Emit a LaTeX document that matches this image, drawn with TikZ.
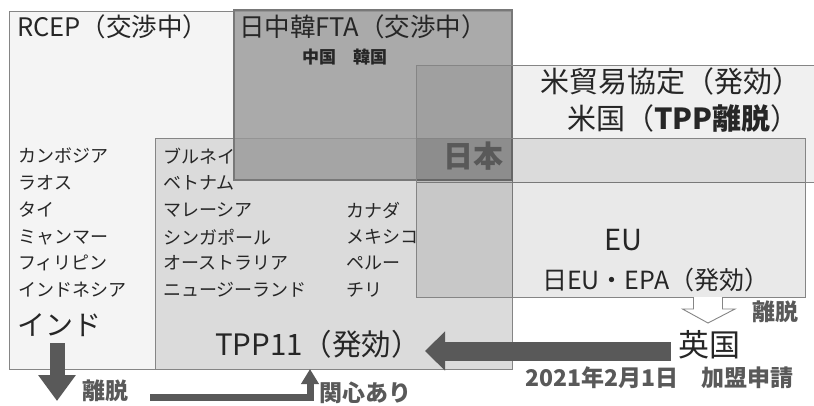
\documentclass[tikz,border=0pt]{standalone}
\usepackage{fontspec}
\setmainfont{Noto Sans CJK JP}
\usetikzlibrary{arrows.meta}
\definecolor{ink}{HTML}{262626}
\definecolor{lab}{HTML}{595959}
\definecolor{edge}{HTML}{858585}
\definecolor{ftac}{RGB}{152,152,152}
\newcommand\jsz[1]{\fontsize{#1pt}{#1pt}\selectfont}
\begin{document}
\begin{tikzpicture}[x=1pt,y=-1pt,
  box/.style={draw=edge, line width=0.9pt, anchor=north west, inner sep=0pt, outer sep=0pt},
  txt/.style={anchor=west, inner sep=0pt, text=ink},
  lbl/.style={anchor=west, inner sep=0pt, text=lab, font=\bfseries\jsz{23}},
  cty/.style={anchor=west, inner sep=0pt, text=ink, font=\jsz{18}},
  blk/.style={draw=lab, line join=miter}]
\useasboundingbox (0,0) rectangle (814,405);
\fill[white] (0,0) rectangle (814,405);
% regions
\node[box, fill=black, fill opacity=0.045, minimum width=503pt, minimum height=358pt] (rcep) at (9,11) {};
\node[box, fill=black, fill opacity=0.1, minimum width=357pt, minimum height=231pt] (tpp) at (155,138) {};
\node[box, draw=edge!90!black, line width=1.3pt, fill=ftac, fill opacity=0.8, minimum width=278pt, minimum height=170pt] (fta) at (234,10) {};
\node[box, fill=black, fill opacity=0.06, minimum width=420pt, minimum height=117pt] (us) at (416,65) {};
\node[box, fill=black, fill opacity=0.085, minimum width=389pt, minimum height=159pt] (eu) at (416,138) {};
% titles
\node[txt, font=\jsz{25.5}] (trcep) at (17,27) {RCEP（交渉中）};
\node[txt, font=\jsz{25.5}] (tfta) at (239,27) {日中韓FTA（交渉中）};
\node[txt, font=\bfseries\jsz{17}] (tck) at (302,57) {中国　韓国};
\node[txt, font=\jsz{29}] (tus1) at (540,81) {米貿易協定（発効）};
\node[txt, font=\jsz{29}] (tus2) at (567,118) {米国（\textbf{TPP離脱}）};
\node[txt, text=lab, font=\bfseries\jsz{30}] (tjp) at (443,156) {日本};
\node[txt, font=\jsz{29}] (teu) at (604,240) {EU};
\node[txt, font=\jsz{25}] (tepa) at (542,280) {日EU・EPA（発効）};
\node[txt, font=\jsz{29.5}] (ttpp) at (215,344) {TPP11（発効）};
\node[txt, font=\jsz{28}] (tind) at (17,325) {インド};
\node[txt, font=\jsz{31}] (tuk) at (678,345) {英国};
% countries
\node[cty] (c1) at (18,156) {カンボジア};
\node[cty] (c2) at (18,183) {ラオス};
\node[cty] (c3) at (18,210) {タイ};
\node[cty] (c4) at (18,237) {ミャンマー};
\node[cty] (c5) at (18,263) {フィリピン};
\node[cty] (c6) at (18,290) {インドネシア};
\node[cty] (m1) at (163,156) {ブルネイ};
\node[cty] (m2) at (163,183) {ベトナム};
\node[cty] (m3) at (163,210) {マレーシア};
\node[cty] (m4) at (163,237) {シンガポール};
\node[cty] (m5) at (163,263) {オーストラリア};
\node[cty] (m6) at (163,290) {ニュージーランド};
\node[cty] (r1) at (346,210) {カナダ};
\node[cty] (r2) at (346,237) {メキシコ};
\node[cty] (r3) at (346,263) {ペルー};
\node[cty] (r4) at (346,290) {チリ};
% labels
\node[lbl] (lind) at (82,391) {離脱};
\node[lbl] (lint) at (319,393) {関心あり};
\node[lbl] (luk) at (752,312) {離脱};
\node[lbl] (ldate) at (525,378) {2021年2月1日　加盟申請};
% arrows
\coordinate (indtop) at (57,343);
\coordinate (indtip) at (57,401);
\draw[blk, line width=15pt, -{Triangle[width=36pt,length=26pt]}] (indtop) -- (indtip);
\coordinate (elbs) at (150,397);
\coordinate (elbt) at (310,369);
\draw[blk, line width=7pt, -{Triangle[width=17pt,length=15pt]}] (elbs) -| (elbt);
\coordinate (uks) at (671,351);
\coordinate (ukt) at (425,351);
\draw[blk, line width=19pt, -{Triangle[width=38pt,length=20pt]}] (uks) -- (ukt);
\coordinate (brx) at (708,297);
\draw[edge, fill=white, line width=0.9pt, line join=miter]
  ([xshift=-14.5pt]brx) -- ++(0,12) -- ++(-11,0) -- ++(25.5,14) -- ++(27,-14) -- ++(-12.5,0) -- ++(0,-12);
\end{tikzpicture}
\end{document}
